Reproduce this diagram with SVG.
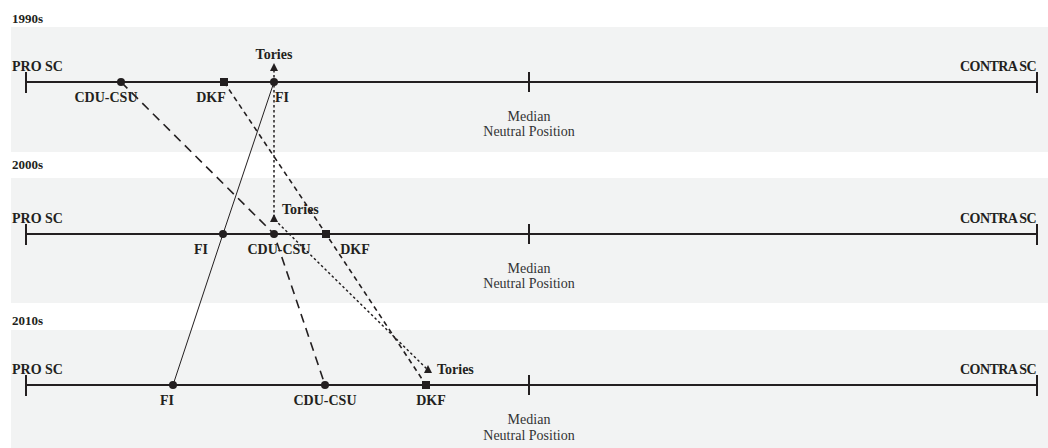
<svg xmlns="http://www.w3.org/2000/svg" width="1048" height="448" viewBox="0 0 1048 448">
<defs>
<style>
.band{fill:#f2f3f3}
.axis{stroke:#231f20;stroke-width:2;fill:none}
.tick{stroke:#231f20;stroke-width:2}
.dec{font-family:"Liberation Serif",serif;font-weight:bold;font-size:13px;fill:#231f20}
.end{font-family:"Liberation Serif",serif;font-weight:bold;font-size:14px;fill:#231f20}
.con{font-family:"Liberation Serif",serif;font-weight:bold;font-size:14px;fill:#231f20;text-anchor:end;letter-spacing:-0.6px}
.lab{font-family:"Liberation Serif",serif;font-weight:bold;font-size:14px;fill:#231f20}
.med{font-family:"Liberation Serif",serif;font-size:14px;fill:#333333;text-anchor:middle}
.mk{fill:#231f20}
.fi{stroke:#231f20;stroke-width:1;fill:none}
.cdu{stroke:#231f20;stroke-width:1.6;fill:none;stroke-dasharray:9 6}
.dkf{stroke:#231f20;stroke-width:1.6;fill:none;stroke-dasharray:5 4}
.tor{stroke:#231f20;stroke-width:1.5;fill:none;stroke-dasharray:2.5 2.5}
</style>
</defs>
<rect width="1048" height="448" fill="#ffffff"/>
<g id="panel-1990s">
<rect class="band" x="11" y="27" width="1037" height="125"/>
<text class="dec" x="12" y="23">1990s</text>
<line class="axis" x1="26" y1="82" x2="1037" y2="82"/>
<line class="tick" x1="26" y1="72" x2="26" y2="93"/>
<line class="tick" x1="529" y1="72" x2="529" y2="92"/>
<line class="tick" x1="1037" y1="72" x2="1037" y2="93"/>
<text class="end" x="12" y="71">PRO SC</text>
<text class="con" x="1036" y="71">CONTRA SC</text>
<text class="med" x="529" y="121">Median</text>
<text class="med" x="529" y="136">Neutral Position</text>
</g>
<g id="panel-2000s">
<rect class="band" x="11" y="178" width="1037" height="125"/>
<text class="dec" x="12" y="169">2000s</text>
<line class="axis" x1="26" y1="234" x2="1037" y2="234"/>
<line class="tick" x1="26" y1="224" x2="26" y2="245"/>
<line class="tick" x1="529" y1="224" x2="529" y2="244"/>
<line class="tick" x1="1037" y1="224" x2="1037" y2="245"/>
<text class="end" x="12" y="223">PRO SC</text>
<text class="con" x="1036" y="223">CONTRA SC</text>
<text class="med" x="529" y="273">Median</text>
<text class="med" x="529" y="288">Neutral Position</text>
</g>
<g id="panel-2010s">
<rect class="band" x="11" y="330" width="1037" height="118"/>
<text class="dec" x="12" y="325">2010s</text>
<line class="axis" x1="26" y1="385" x2="1037" y2="385"/>
<line class="tick" x1="26" y1="375" x2="26" y2="396"/>
<line class="tick" x1="529" y1="375" x2="529" y2="395"/>
<line class="tick" x1="1037" y1="375" x2="1037" y2="396"/>
<text class="end" x="12" y="374">PRO SC</text>
<text class="con" x="1036" y="374">CONTRA SC</text>
<text class="med" x="529" y="424">Median</text>
<text class="med" x="529" y="440">Neutral Position</text>
</g>
<g id="connectors">
<polyline id="conn-fi" class="fi" points="274,82 223,234 173,385"/>
<polyline id="conn-cdu" class="cdu" points="121,82 274,234 325,385"/>
<polyline id="conn-dkf" class="dkf" points="224,82 326,234 426,385"/>
<polyline id="conn-tories" class="tor" points="274,70 274,219 427,369"/>
</g>
<g id="node-cdu-1990s"><circle class="mk" cx="121" cy="82" r="4"/><text class="lab" x="106" y="102" text-anchor="middle">CDU-CSU</text></g>
<g id="node-dkf-1990s"><rect class="mk" x="220" y="78" width="8" height="8"/><text class="lab" x="211" y="102" text-anchor="middle">DKF</text></g>
<g id="node-fi-1990s"><circle class="mk" cx="274" cy="82" r="4"/><text class="lab" x="275" y="102">FI</text></g>
<g id="node-tories-1990s"><polygon class="mk" points="274,63 278,71 270,71"/><text class="lab" x="274" y="59" text-anchor="middle">Tories</text></g>
<g id="node-fi-2000s"><circle class="mk" cx="223" cy="234" r="4"/><text class="lab" x="201" y="254" text-anchor="middle">FI</text></g>
<g id="node-cdu-2000s"><circle class="mk" cx="274" cy="234" r="4"/><text class="lab" x="279" y="254" text-anchor="middle">CDU-CSU</text></g>
<g id="node-dkf-2000s"><rect class="mk" x="322" y="230" width="8" height="8"/><text class="lab" x="355" y="254" text-anchor="middle">DKF</text></g>
<g id="node-tories-2000s"><polygon class="mk" points="274,214 278,222 270,222"/><text class="lab" x="282" y="214">Tories</text></g>
<g id="node-fi-2010s"><circle class="mk" cx="173" cy="385" r="4"/><text class="lab" x="167" y="405" text-anchor="middle">FI</text></g>
<g id="node-cdu-2010s"><circle class="mk" cx="325" cy="385" r="4"/><text class="lab" x="325" y="405" text-anchor="middle">CDU-CSU</text></g>
<g id="node-dkf-2010s"><rect class="mk" x="422" y="381" width="8" height="8"/><text class="lab" x="431" y="405" text-anchor="middle">DKF</text></g>
<g id="node-tories-2010s"><polygon class="mk" points="428,365 432,373 424,373"/><text class="lab" x="437" y="374">Tories</text></g>
</svg>
